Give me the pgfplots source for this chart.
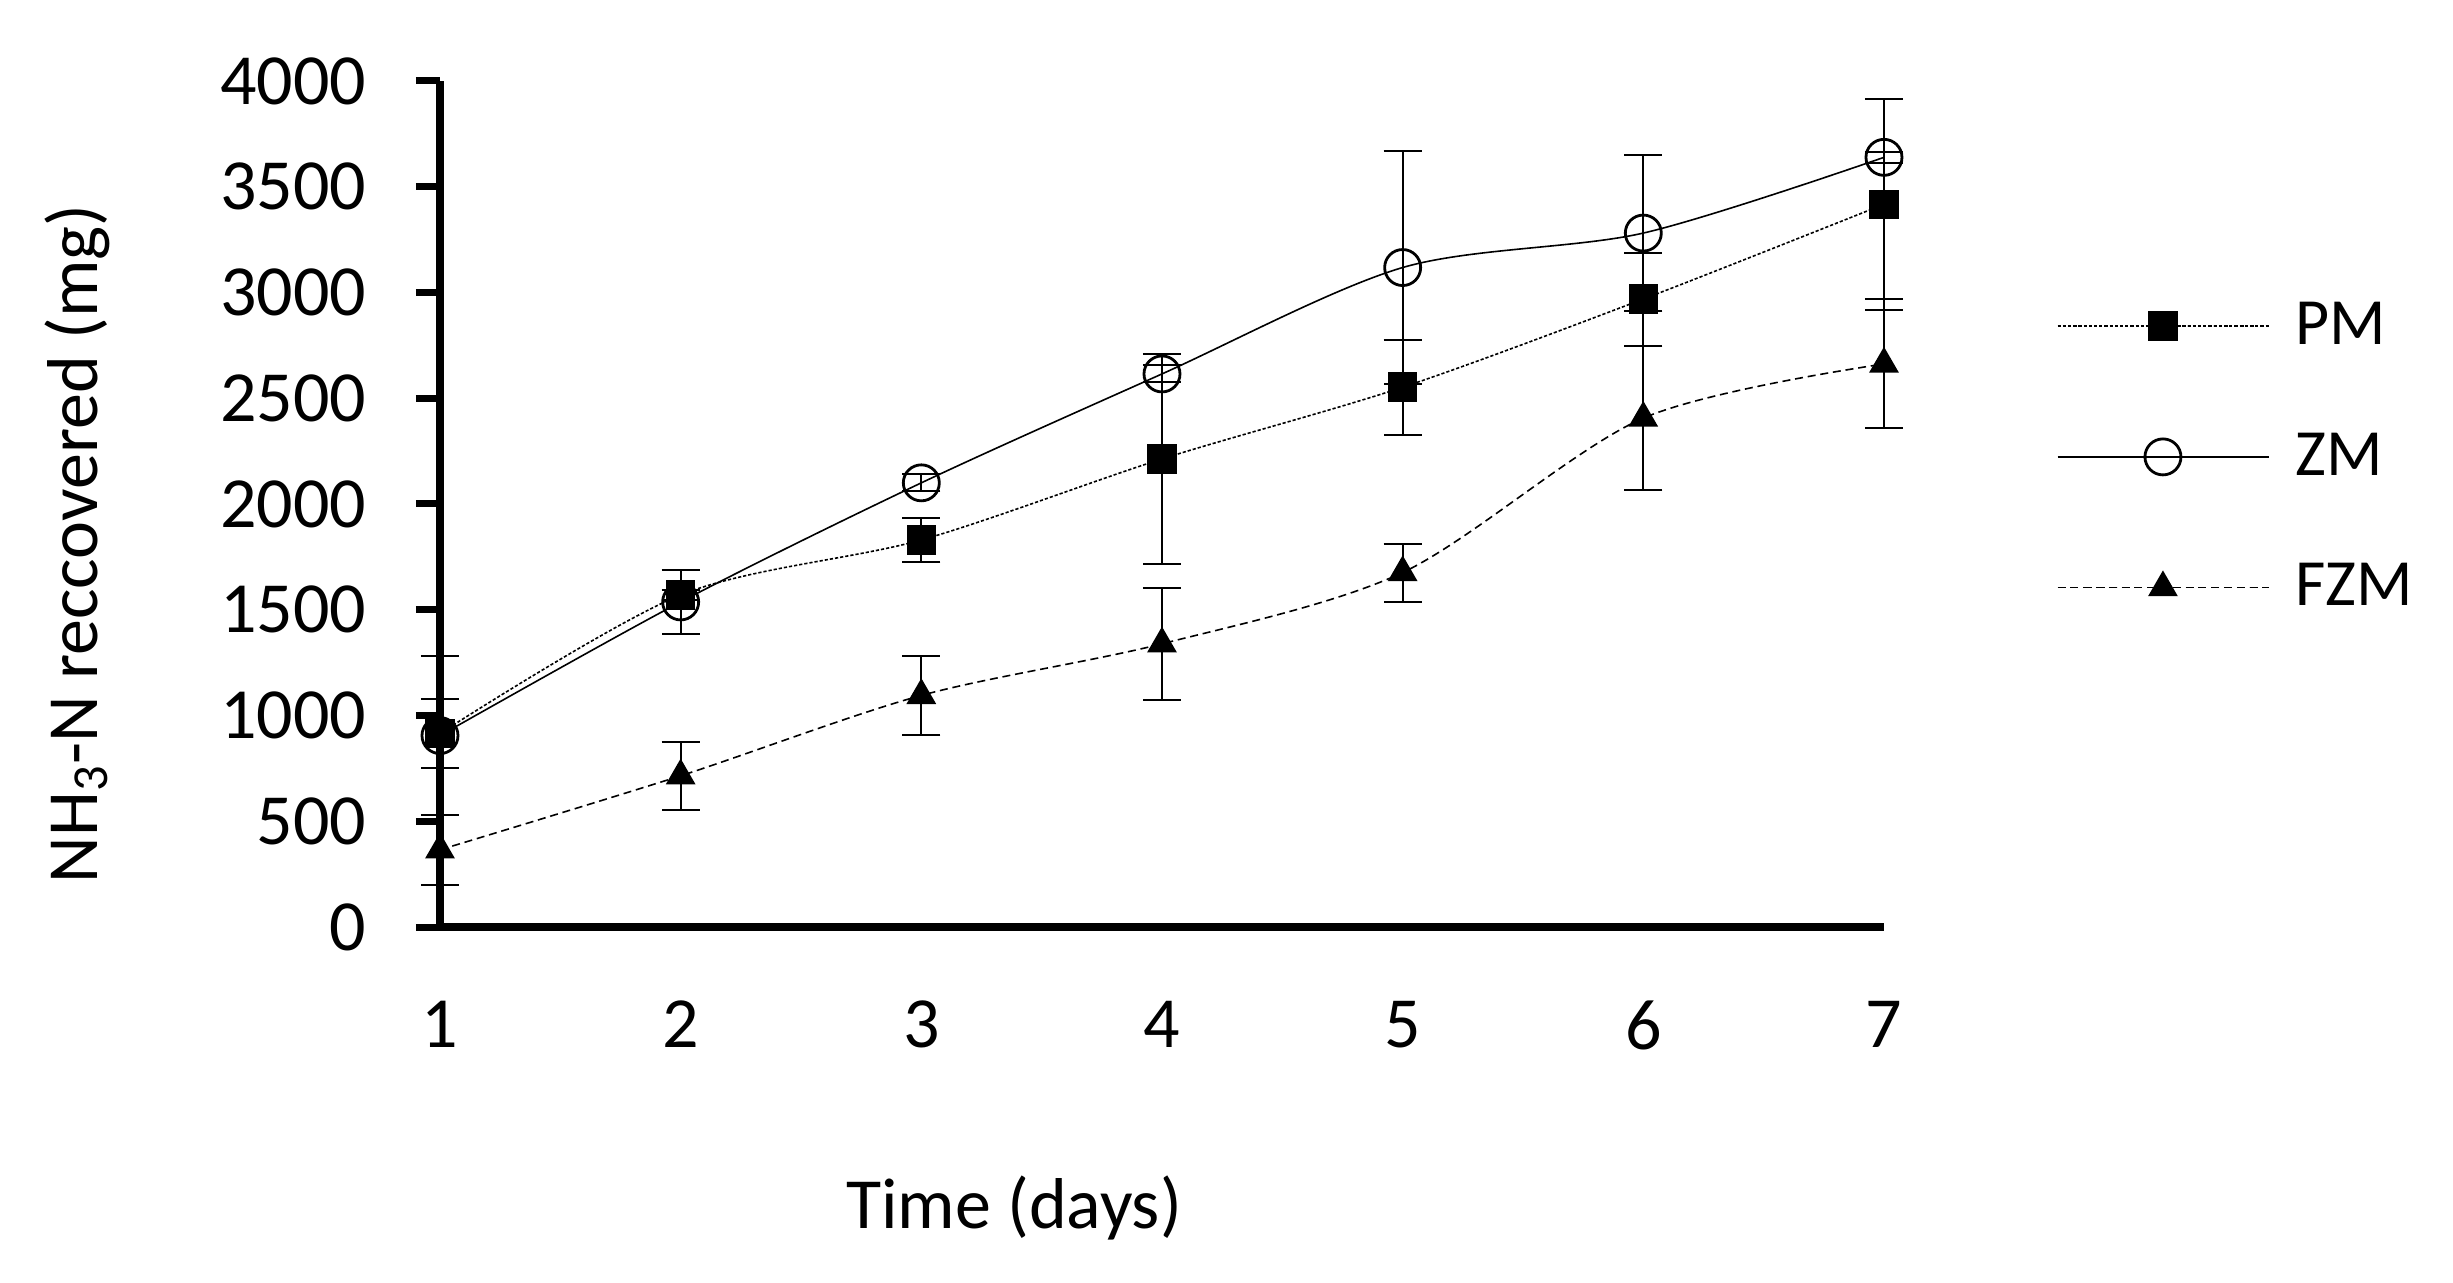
\documentclass[border=0pt]{standalone}
\usepackage{fontspec}
\setmainfont{Carlito}
\usepackage{pgfplots}
\pgfplotsset{compat=1.18}
\usepackage{pgfplotstable}

\pgfplotstableread{
x y e
1 915 165
2 1570 22
3 1830 105
4 2213 497
5 2552 225
6 2969 220
7 3417 500
}\pm

\pgfplotstableread{
x y e
1 905 375
2 1537 153
3 2100 40
4 2615 40
5 3118 550
6 3281 369
7 3639 25
}\zm

\pgfplotstableread{
x y e
1 365 165
2 715 160
3 1095 185
4 1339 264
5 1676 137
6 2406 340
7 2662 305
}\fzm

\begin{document}
\begin{tikzpicture}
\useasboundingbox (-110bp,-89bp) rectangle (503.25bp,231.75bp);
\begin{axis}[
  at={(0,0)}, anchor=south west,
  scale only axis, width=361bp, height=211.5bp,
  xmin=1, xmax=7, ymin=0, ymax=4000,
  xtick={1,...,7}, ytick={0,500,...,4000},
  axis x line*=bottom, axis y line*=left,
  axis line style={line width=2bp, black},
  tick align=outside,
  major tick length=6bp,
  xtick style={draw=none},
  ytick style={line width=1.75bp, black},
  clip=false,
  /pgf/number format/assume math mode=true,
  /pgf/number format/1000 sep={},
  tick label style={font=\fontsize{18bp}{21.6bp}\selectfont, inner sep=0pt},
  yticklabel style={anchor=east, xshift=-12.25bp},
  xticklabel style={anchor=north, yshift=-12.25bp},
  xlabel={Time (days)},
  ylabel={NH\textsubscript{3}-N reccovered (mg)},
  label style={font=\fontsize{18bp}{21.6bp}\selectfont, inner sep=0pt},
  xlabel style={at={(0.3975,-0.3558)}, anchor=base},
  ylabel style={at={(-0.2375,0.4527)}, anchor=base},
  legend image code/.code={\draw[mark repeat=2,mark phase=2,#1] plot coordinates {(0bp,0bp) (26.35bp,0bp) (52.7bp,0bp)};},
  legend style={draw=none, fill=none, at={(1.1191,0.7397)}, anchor=north west,
    inner sep=0pt, font=\fontsize{16.5bp}{19.8bp}\selectfont,
    nodes={inner sep=0pt}, row sep=20.6bp,
    /tikz/every odd column/.append style={column sep=6.5bp}},
  legend cell align=left,
]
\addplot[black, line width=0.4bp, smooth, dash pattern=on 0.8bp off 0.5bp,
  mark=square*, mark size=3.5bp, mark options={solid, fill=black},
  error bars/.cd, y dir=both, y explicit,
  error bar style={solid, line width=0.5bp, black},
  error mark options={rotate=90, mark size=4.75bp, line width=0.5bp, solid, black}]
  table[x=x, y=y, y error=e] {\pm};
\addlegendentry{PM}
\addplot[black, line width=0.4bp, smooth,
  mark=o, mark size=4.5bp, mark options={solid, line width=0.7bp},
  error bars/.cd, y dir=both, y explicit,
  error bar style={solid, line width=0.5bp, black},
  error mark options={rotate=90, mark size=4.75bp, line width=0.5bp, solid, black}]
  table[x=x, y=y, y error=e] {\zm};
\addlegendentry{ZM}
\addplot[black, line width=0.4bp, smooth, dash pattern=on 2bp off 1.2bp,
  mark=triangle*, mark size=3.9bp, mark options={solid, fill=black},
  error bars/.cd, y dir=both, y explicit,
  error bar style={solid, line width=0.5bp, black},
  error mark options={rotate=90, mark size=4.75bp, line width=0.5bp, solid, black}]
  table[x=x, y=y, y error=e] {\fzm};
\addlegendentry{FZM}
\end{axis}
\end{tikzpicture}
\end{document}
